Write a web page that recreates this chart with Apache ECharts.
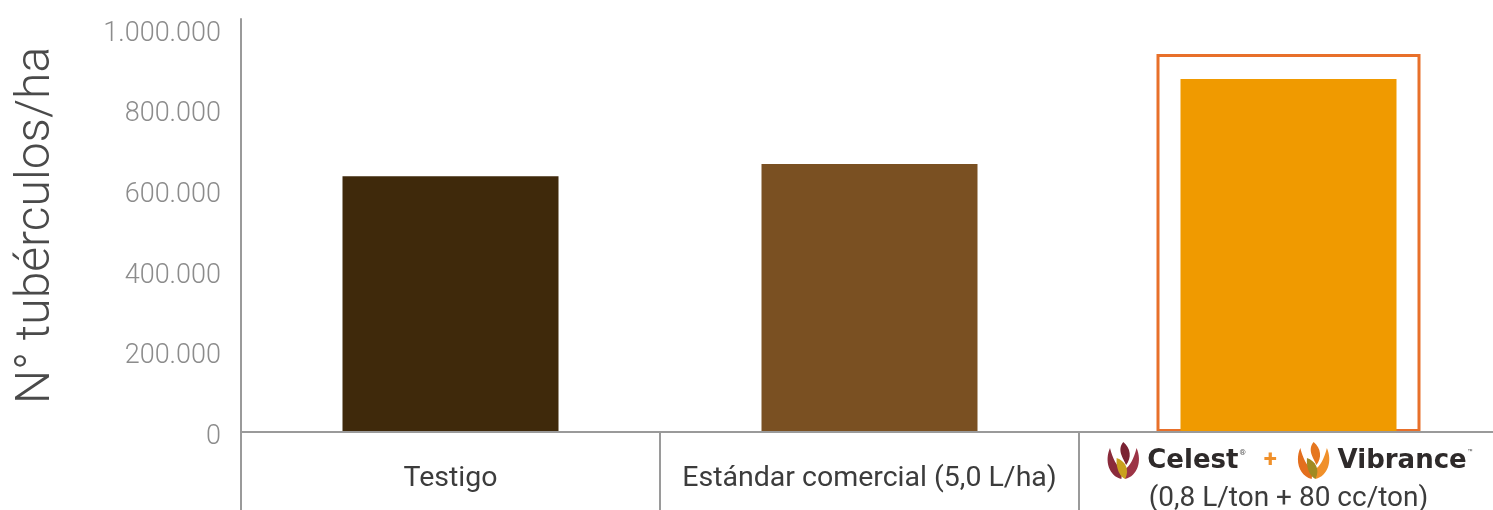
<!DOCTYPE html>
<html>
<head>
<meta charset="utf-8">
<script src="https://cdn.jsdelivr.net/npm/echarts@6/dist/echarts.min.js"></script>
<style>
html,body{margin:0;padding:0;background:#fff;}
#chart{width:1493px;height:510px;}
</style>
</head>
<body>
<div id="chart"></div>
<script>
// ---- data ----
var categories = ['Testigo', 'Estándar comercial (5,0 L/ha)', 'Celest + Vibrance (0,8 L/ton + 80 cc/ton)'];
var tuberValues = [635000, 665000, 876000];
var highlightBox = [null, null, 938000];
var barColors = ['#3f290b', '#7a5022', '#f09a00'];
var yTicks = [0, 200000, 400000, 600000, 800000, 1000000];
var yAxisTitle = 'N° tubérculos/ha';

function fmt(v) {
  return String(v).replace(/\B(?=(\d{3})+(?!\d))/g, '.');
}

function svgIcon(p1, p2, p3, c) {
  var s = "<svg xmlns='http://www.w3.org/2000/svg' viewBox='0 0 40 40'>" +
    "<path d='M18 38 C5 35 0 20 6 7 C9 18 13 25 19 29 Z' fill='" + p1 + "'/>" +
    "<path d='M22 38 C35 35 40 20 34 7 C31 18 27 25 21 29 Z' fill='" + p2 + "'/>" +
    "<path d='M20 1 C28 7 29 17 23 24 C20 17 13 9 20 1 Z' fill='" + p3 + "'/>" +
    "<path d='M13 17 C22 20 27 28 22 38 C17 36 12 28 13 17 Z' fill='" + c + "'/>" +
    "</svg>";
  return 'data:image/svg+xml;charset=utf-8,' + encodeURIComponent(s);
}
var celestIcon = svgIcon('#8a2b3b', '#9c3446', '#7a2233', '#c9a11e');
var vibranceIcon = svgIcon('#e36f1e', '#f0902a', '#e5761f', '#a08a22');

var FONT = 'Roboto, "Liberation Sans", Arial, sans-serif';

var chart = echarts.init(document.getElementById('chart'), null, {renderer: 'canvas'});
var option = {
  backgroundColor: '#ffffff',
  animation: false,
  grid: {left: 241, top: 19, width: 1257, bottom: 78, containLabel: false, outerBoundsMode: 'none'},
  xAxis: [{
    type: 'category',
    data: categories,
    z: 5,
    axisLine: {lineStyle: {color: '#9a9a9a', width: 2}},
    axisTick: {show: true, alignWithLabel: false, length: 80, lineStyle: {color: '#9a9a9a', width: 2}},
    axisLabel: {
      margin: 9,
      interval: 0,
      formatter: function (v, i) {
        if (i === 2) {
          return '{ic1|}{brand|Celest}{sup|®}{plus|   +   }{ic2|}{brand|Vibrance}{sup|™}\n{l2|(0,8 L/ton + 80 cc/ton)}';
        }
        return '{one|' + v + '}';
      },
      rich: {
        one: {fontFamily: FONT, fontSize: 28.5, color: '#3c3c3c', lineHeight: 76},
        ic1: {backgroundColor: {image: celestIcon}, width: 38, height: 40},
        ic2: {backgroundColor: {image: vibranceIcon}, width: 38, height: 40},
        brand: {fontFamily: '"DejaVu Sans", Verdana, sans-serif', fontWeight: 'bold', fontSize: 26, color: '#2e2a2a', padding: [0, 0, 0, 5]},
        sup: {fontFamily: FONT, fontSize: 8, color: '#555', padding: [0, 0, 16, 1]},
        plus: {fontFamily: FONT, fontWeight: 'bold', fontSize: 24, color: '#f0902a'},
        l2: {fontFamily: FONT, fontSize: 28, color: '#3c3c3c', lineHeight: 36}
      }
    },
    splitLine: {show: false}
  }, {
    type: 'category',
    data: categories,
    show: false
  }],
  yAxis: {
    type: 'value',
    min: 0,
    max: 1025000,
    interval: 200000,
    name: yAxisTitle,
    nameLocation: 'middle',
    nameGap: 180,
    nameRotate: 90,
    nameTextStyle: {fontFamily: FONT, fontWeight: 300, fontSize: 48, color: '#4a4a4a'},
    axisLine: {show: true, lineStyle: {color: '#9a9a9a', width: 2}},
    axisTick: {show: false},
    splitLine: {show: false},
    axisLabel: {
      margin: 20,
      showMaxLabel: false,
      formatter: function (v) {
        return yTicks.indexOf(v) >= 0 ? '{t|' + fmt(v) + '}' : '';
      },
      rich: {
        t: {fontFamily: FONT, fontWeight: 300, fontSize: 27, color: '#8c8c8c', padding: [10, 0, 0, 0]}
      }
    }
  },
  series: [{
    type: 'bar',
    xAxisIndex: 1,
    data: highlightBox,
    barWidth: 264,
    z: 1,
    itemStyle: {color: 'rgba(255,255,255,0)', borderColor: '#e8702a', borderWidth: 3},
    silent: true
  }, {
    type: 'bar',
    xAxisIndex: 0,
    data: tuberValues.map(function (v, i) { return {value: v, itemStyle: {color: barColors[i]}}; }),
    barWidth: 216,
    z: 2
  }]
};
chart.setOption(option);
</script>
</body>
</html>
